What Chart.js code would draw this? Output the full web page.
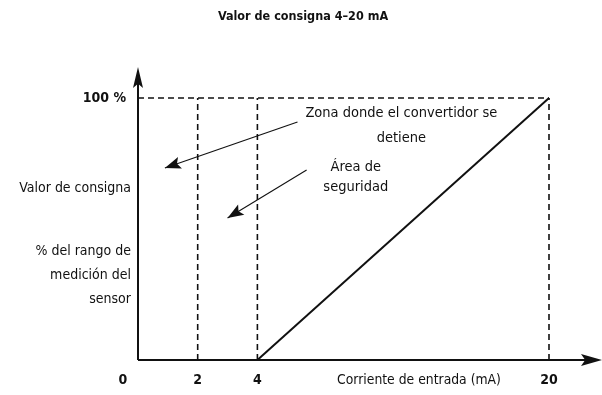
<!DOCTYPE html>
<html>
<head>
<meta charset="utf-8">
<script src="https://cdn.jsdelivr.net/npm/chart.js@4"></script>
<style>
  html, body { margin: 0; padding: 0; background: #fff; }
  #wrap { width: 602px; height: 395px; }
</style>
</head>
<body>
<div id="wrap"><canvas id="myChart" width="602" height="395"></canvas></div>
<script>
// values
const title = 'Valor de consigna 4–20 mA'
const xTicks = [0, 2, 4, 20]
const xTickLabels = ['0', '2', '4', '20']
const xAxisTitle = 'Corriente de entrada (mA)'
const yTicks = [100]
const yTickLabels = ['100 %']
const yTitleLines = ['% del rango de', 'medición del', 'sensor']
const yTitleTop = 'Valor de consigna'

// setpoint curve (mA -> % of range)
const setpointMA = [4, 20]
const setpointPct = [0, 100]

// dashed guides
const guideMA = [2, 4, 20]
const guidePct = 100

// callouts: text lines with anchor in mA / %
const notes = [
  { lines: ['Zona donde el convertidor se', 'detiene'], mA: 11.9, pct: [94.3, 84.8] },
  { lines: ['Área de', 'seguridad'], mA: 9.4, pct: [73.7, 66.0] }
]
const arrows = [
  { from: [6.2, 90.8], to: [0.9, 73.3] },
  { from: [6.7, 72.5], to: [3.0, 54.2] }
]

// axis is broken after 4 mA: 4..20 is squeezed
const BREAK = 4
const END_POS = 13.77
function axisPos (mA) {
  if (mA <= BREAK) return mA
  return BREAK + (mA - BREAK) * ((END_POS - BREAK) / (20 - BREAK))
}

const font = '"DejaVu Sans Condensed", "Liberation Sans Narrow", sans-serif'
const ink = '#111'

function arrowHead (ctx, x1, y1, x2, y2, len, half) {
  const a = Math.atan2(y2 - y1, x2 - x1)
  ctx.beginPath()
  ctx.moveTo(x2, y2)
  ctx.lineTo(x2 - len * Math.cos(a) + half * Math.sin(a), y2 - len * Math.sin(a) - half * Math.cos(a))
  ctx.lineTo(x2 - len * Math.cos(a) * 0.8, y2 - len * Math.sin(a) * 0.8)
  ctx.lineTo(x2 - len * Math.cos(a) - half * Math.sin(a), y2 - len * Math.sin(a) + half * Math.cos(a))
  ctx.closePath()
  ctx.fill()
}

const decor = {
  id: 'decor',
  afterDatasetsDraw (chart) {
    const { ctx, chartArea, scales } = chart
    const xs = scales.x, ys = scales.y
    const W = chart.width
    ctx.save()
    ctx.fillStyle = ink
    ctx.strokeStyle = ink

    // axes with arrows
    ctx.lineWidth = 2
    ctx.beginPath()
    ctx.moveTo(chartArea.left, chartArea.bottom)
    ctx.lineTo(chartArea.left, 74)
    ctx.moveTo(chartArea.left, chartArea.bottom)
    ctx.lineTo(W - 6, chartArea.bottom)
    ctx.stroke()
    arrowHead(ctx, chartArea.left, chartArea.bottom, chartArea.left, 67, 21, 5)
    arrowHead(ctx, chartArea.left, chartArea.bottom, W, chartArea.bottom, 21, 6)

    // callout arrows
    ctx.lineWidth = 1.1
    arrows.forEach(a => {
      const x1 = xs.getPixelForValue(axisPos(a.from[0])), y1 = ys.getPixelForValue(a.from[1])
      const x2 = xs.getPixelForValue(axisPos(a.to[0])), y2 = ys.getPixelForValue(a.to[1])
      ctx.beginPath()
      ctx.moveTo(x1, y1)
      ctx.lineTo(x2, y2)
      ctx.stroke()
      arrowHead(ctx, x1, y1, x2, y2, 16, 6)
    })

    // title
    ctx.textBaseline = 'middle'
    ctx.textAlign = 'center'
    ctx.font = 'bold 12.5px ' + font
    ctx.fillText(title, 303, 17)

    // x ticks
    ctx.font = 'bold 14px ' + font
    xTicks.forEach((v, i) => {
      let x = xs.getPixelForValue(axisPos(v))
      if (v === 0) x -= 15
      ctx.fillText(xTickLabels[i], x, 380)
    })
    ctx.font = '13.8px ' + font
    ctx.fillText(xAxisTitle, 419, 380)

    // y ticks + title
    ctx.textAlign = 'right'
    ctx.font = 'bold 14px ' + font
    yTicks.forEach((v, i) => {
      ctx.fillText(yTickLabels[i], chartArea.left - 12, ys.getPixelForValue(v))
    })
    ctx.font = '14px ' + font
    ctx.fillText(yTitleTop, chartArea.left - 7, 188)
    yTitleLines.forEach((t, i) => {
      ctx.fillText(t, chartArea.left - 7, 251 + i * 24)
    })

    // callout texts
    ctx.textAlign = 'center'
    ctx.font = '14.5px ' + font
    notes.forEach(n => {
      const x = xs.getPixelForValue(axisPos(n.mA))
      n.lines.forEach((t, i) => ctx.fillText(t, x, ys.getPixelForValue(n.pct[i])))
    })
    ctx.restore()
  }
}

const dashed = { borderColor: ink, borderWidth: 1.6, borderDash: [6, 4], pointRadius: 0, showLine: true, clip: false }

const datasets = [
  Object.assign({ data: [{ x: axisPos(0), y: guidePct }, { x: axisPos(20), y: guidePct }] }, dashed)
]
guideMA.forEach(m => {
  datasets.push(Object.assign({ data: [{ x: axisPos(m), y: 0 }, { x: axisPos(m), y: guidePct }] }, dashed))
})
datasets.push({
  data: setpointMA.map((m, i) => ({ x: axisPos(m), y: setpointPct[i] })),
  borderColor: ink, borderWidth: 2, pointRadius: 0, showLine: true, clip: false
})

new Chart(document.getElementById('myChart').getContext('2d'), {
  type: 'scatter',
  data: { datasets: datasets },
  options: {
    responsive: false,
    animation: false,
    layout: { padding: { left: 138, right: 53, top: 98, bottom: 35 } },
    scales: {
      x: { type: 'linear', min: 0, max: END_POS, display: false },
      y: { type: 'linear', min: 0, max: 100, display: false }
    },
    plugins: { legend: { display: false }, tooltip: { enabled: false }, title: { display: false } }
  },
  plugins: [decor]
})
</script>
</body>
</html>
